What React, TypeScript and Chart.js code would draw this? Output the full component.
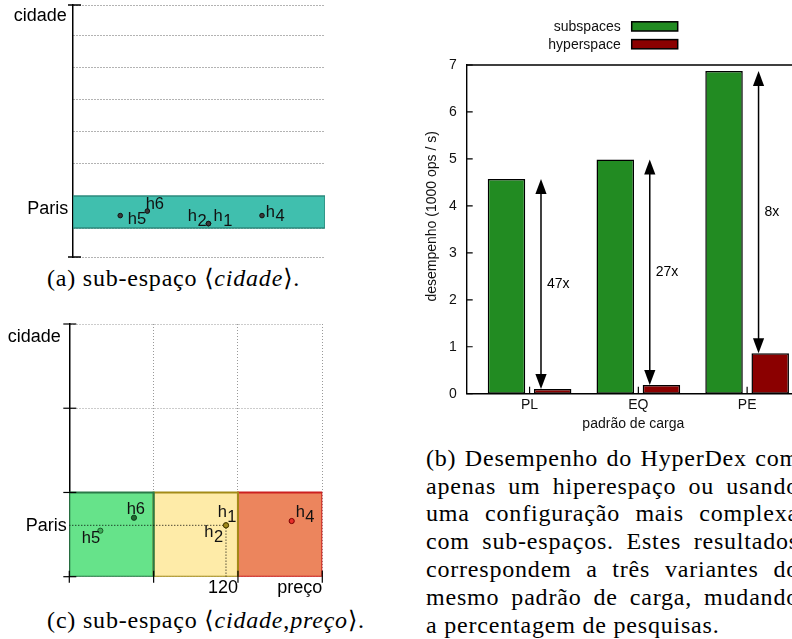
import React, { useEffect, useRef } from "react";
import { Chart, registerables } from "chart.js";

Chart.register(...registerables);

const SANS = '"Liberation Sans", Arial, sans-serif';
const SERIF = '"Liberation Serif", "DejaVu Serif", serif';

// ---------------- (a) sub-espaço <cidade> ----------------
const aAxisName = "cidade";
const aCity = "Paris";
const aCityBand = [1, 2];
const aXRange = [0, 4];
const aYRange = [0.1, 7.95];
const aGridY = [0.1, 1, 2, 3, 4, 5, 6, 7, 7.95];
const aPointNames = ["h5", "h6", "h1", "h2", "h4"];
const aPointX = [0.75, 1.18, 2.15, 2.15, 3.0];
const aPointY = [1.39, 1.53, 1.14, 1.14, 1.39];

// ---------------- (b) desempenho ----------------
const bCategories = ["PL", "EQ", "PE"];
const bSeriesNames = ["subspaces", "hyperspace"];
const bSubspaces = [4.57, 4.99, 6.87];
const bHyperspace = [0.098, 0.185, 0.86];
const bRatios = ["47x", "27x", "8x"];
const bYTicks = [0, 1, 2, 3, 4, 5, 6, 7];
const bXTitle = "padrão de carga";
const bYTitle = "desempenho (1000 ops / s)";

// ---------------- (c) sub-espaço <cidade,preço> ----------------
const cAxisNames = ["cidade", "preço"];
const cCity = "Paris";
const cCityBand = [0, 1];
const cPriceBands = [
  [0, 1],
  [1, 2],
  [2, 3],
];
const cGrid = [0, 1, 2, 3];
const cPointNames = ["h5", "h6", "h1", "h2", "h4"];
const cPointX = [0.368, 0.767, 1.858, 1.858, 2.637];
const cPointY = [0.546, 0.7, 0.61, 0.61, 0.661];
const cPriceTick = "120";

// ---------------- styles ----------------
const SUBSCRIPTED = ["h1", "h2", "h4"];
const aLabelOffsets: Record<string, number[]> = {
  h5: [7.5, 8],
  h6: [-1.7, -2.3],
  h1: [5, -2.6],
  h2: [-20.6, -2.6],
  h4: [3.7, 1.4],
};
const cLabelOffsets: Record<string, number[]> = {
  h5: [-18.6, 12.6],
  h6: [-7.3, -3.4],
  h1: [-8.3, -8],
  h2: [-21.7, 12],
  h4: [4, -3.7],
};
const cBandFill = ["#66e38a", "#feeba8", "#ec855d"];
const cBandStroke = ["#2a7a48", "#a38b18", "#cc2020"];
const cPointFill: Record<string, string> = {
  h5: "#3fae5a",
  h6: "#1f6b30",
  h1: "#a08a1c",
  h2: "#a08a1c",
  h4: "#e8302a",
};
const cPointStroke: Record<string, string> = {
  h5: "#1d5a2a",
  h6: "#0f3d1a",
  h1: "#4d4000",
  h2: "#4d4000",
  h4: "#7a0000",
};

function rectDatasets(
  x0: number,
  x1: number,
  y0: number,
  y1: number,
  fillColor: string,
  stroke: string,
  width: number
) {
  return [
    {
      data: [
        { x: x0, y: y1 },
        { x: x1, y: y1 },
      ],
      showLine: true,
      fill: { value: y0 },
      backgroundColor: fillColor,
      borderColor: "rgba(0,0,0,0)",
      borderWidth: 0,
      pointRadius: 0,
      order: 6,
    },
    {
      data: [
        { x: x0, y: y0 },
        { x: x1, y: y0 },
        { x: x1, y: y1 },
        { x: x0, y: y1 },
        { x: x0, y: y0 },
      ],
      showLine: true,
      fill: false,
      borderColor: stroke,
      borderWidth: width,
      pointRadius: 0,
      order: 5,
    },
  ];
}

function drawHLabel(ctx: CanvasRenderingContext2D, name: string, x: number, y: number) {
  const sub = SUBSCRIPTED.includes(name);
  ctx.font = `16.5px ${SANS}`;
  ctx.textAlign = "left";
  ctx.textBaseline = "alphabetic";
  const head = name.charAt(0);
  const tail = name.slice(1);
  ctx.fillText(head, x, y);
  const w = ctx.measureText(head).width;
  ctx.fillText(tail, x + w + (sub ? 0.5 : 0), y + (sub ? 4.5 : 0));
}

const baseOptions = {
  animation: false as const,
  responsive: false,
  maintainAspectRatio: false,
  devicePixelRatio: 1,
  events: [] as any[],
};

function makeA(canvas: HTMLCanvasElement) {
  const pts = aPointX.map((x, i) => ({ x, y: aPointY[i] }));
  const plugin = {
    id: "decorA",
    afterDatasetsDraw(chart: any) {
      const { ctx, chartArea: ca } = chart;
      const ys = chart.scales.y;
      const xs = chart.scales.x;
      ctx.save();
      ctx.strokeStyle = "#000";
      ctx.lineWidth = 1.5;
      [aYRange[0], aYRange[1]].forEach((v) => {
        const py = ys.getPixelForValue(v);
        ctx.beginPath();
        ctx.moveTo(ca.left - 5, py);
        ctx.lineTo(ca.left + 8, py);
        ctx.stroke();
      });
      ctx.fillStyle = "#000";
      ctx.font = `18px ${SANS}`;
      ctx.textAlign = "right";
      ctx.textBaseline = "alphabetic";
      ctx.fillText(aAxisName, ca.left - 6.3, ca.top + 16);
      ctx.fillText(aCity, ca.left - 4.7, ys.getPixelForValue((aCityBand[0] + aCityBand[1]) / 2) + 2);
      ctx.fillStyle = "#111";
      aPointNames.forEach((n, i) => {
        const [dx, dy] = aLabelOffsets[n];
        drawHLabel(ctx, n, xs.getPixelForValue(aPointX[i]) + dx, ys.getPixelForValue(aPointY[i]) + dy);
      });
      ctx.restore();
    },
  };
  return new Chart(canvas, {
    type: "scatter",
    data: {
      datasets: [
        {
          data: pts,
          pointRadius: 2.3,
          pointBackgroundColor: "#3a3a3a",
          pointBorderColor: "#111",
          pointBorderWidth: 1,
          order: 1,
        },
        ...rectDatasets(aXRange[0], aXRange[1], aCityBand[0], aCityBand[1], "#40bfae", "#2d8a7d", 1.5),
      ] as any,
    },
    options: {
      ...baseOptions,
      layout: { padding: { left: 73, right: 15, top: 4.7, bottom: 4.7 } },
      plugins: { legend: { display: false }, tooltip: { enabled: false } },
      scales: {
        x: { type: "linear", min: aXRange[0], max: aXRange[1], display: false },
        y: {
          type: "linear",
          min: aYRange[0],
          max: aYRange[1],
          afterBuildTicks: (s: any) => {
            s.ticks = aGridY.map((v) => ({ value: v }));
          },
          afterFit: (s: any) => {
            s.width = 0;
          },
          ticks: { display: false },
          grid: { color: "#666", lineWidth: 1, drawTicks: false },
          border: { display: true, color: "#000", width: 1.5, dash: [1, 2] },
        },
      },
    } as any,
    plugins: [plugin],
  });
}

function makeB(canvas: HTMLCanvasElement) {
  const font = { family: SANS, size: 14 };
  const colors = ["#228b22", "#8b0000"];
  const plugin = {
    id: "decorB",
    afterDatasetsDraw(chart: any) {
      const { ctx, chartArea: ca } = chart;
      const xs = chart.scales.x;
      const ys = chart.scales.y;
      ctx.save();
      ctx.strokeStyle = "#000";
      ctx.fillStyle = "#000";
      ctx.lineWidth = 1.4;
      // frame top / right
      ctx.beginPath();
      ctx.moveTo(ca.left, ca.top);
      ctx.lineTo(ca.right, ca.top);
      ctx.lineTo(ca.right, ca.bottom);
      ctx.stroke();
      // inside ticks
      ctx.lineWidth = 1.2;
      bYTicks.forEach((v) => {
        const py = ys.getPixelForValue(v);
        ctx.beginPath();
        ctx.moveTo(ca.left, py);
        ctx.lineTo(ca.left + 6, py);
        ctx.moveTo(ca.right, py);
        ctx.lineTo(ca.right - 6, py);
        ctx.stroke();
      });
      bCategories.forEach((_, i) => {
        const px = xs.getPixelForValue(i);
        ctx.beginPath();
        ctx.moveTo(px, ca.bottom);
        ctx.lineTo(px, ca.bottom - 7);
        ctx.stroke();
      });
      // arrows
      ctx.lineWidth = 1.5;
      const hl = 15;
      const hw = 5.6;
      bCategories.forEach((_, i) => {
        const ax = xs.getPixelForValue(i + 0.105);
        const yt = ys.getPixelForValue(bSubspaces[i]);
        const yb = ys.getPixelForValue(bHyperspace[i]);
        ctx.beginPath();
        ctx.moveTo(ax, yt + hl - 1);
        ctx.lineTo(ax, yb - hl + 1);
        ctx.stroke();
        ctx.beginPath();
        ctx.moveTo(ax, yt);
        ctx.lineTo(ax - hw, yt + hl);
        ctx.lineTo(ax + hw, yt + hl);
        ctx.closePath();
        ctx.fill();
        ctx.beginPath();
        ctx.moveTo(ax, yb);
        ctx.lineTo(ax - hw, yb - hl);
        ctx.lineTo(ax + hw, yb - hl);
        ctx.closePath();
        ctx.fill();
        ctx.font = `14px ${SANS}`;
        ctx.textAlign = "left";
        ctx.textBaseline = "middle";
        ctx.fillText(bRatios[i], ax + 6, ys.getPixelForValue((bSubspaces[i] + bHyperspace[i]) / 2));
      });
      // legend
      const rows = [26.4, 44.2];
      bSeriesNames.forEach((name, i) => {
        ctx.font = `14px ${SANS}`;
        ctx.textAlign = "right";
        ctx.textBaseline = "alphabetic";
        ctx.fillStyle = "#111";
        ctx.fillText(name, ca.left + 154, rows[i] + 5);
        ctx.fillStyle = colors[i];
        ctx.fillRect(ca.left + 165, rows[i] - 4.6, 46, 9.2);
        ctx.strokeStyle = "#000";
        ctx.lineWidth = 1.5;
        ctx.strokeRect(ca.left + 165, rows[i] - 4.6, 46, 9.2);
      });
      // titles
      ctx.fillStyle = "#111";
      ctx.font = `14px ${SANS}`;
      ctx.textAlign = "center";
      ctx.textBaseline = "alphabetic";
      ctx.fillText(bXTitle, xs.getPixelForValue(1) - 5, ca.bottom + 34.6);
      ctx.save();
      ctx.translate(ca.left - 35, (ca.top + ca.bottom) / 2 - 13);
      ctx.rotate(-Math.PI / 2);
      ctx.textBaseline = "middle";
      ctx.fillText(bYTitle, 0, 0);
      ctx.restore();
      ctx.restore();
    },
  };
  const mk = (vals: number[], i: number) => ({
    label: bSeriesNames[i],
    data: vals.map((v, k) => ({ x: k, y: v })),
    backgroundColor: colors[i],
    borderColor: "#000",
    borderWidth: 1.5,
    borderSkipped: false,
    categoryPercentage: 0.849,
    barPercentage: 0.812,
  });
  return new Chart(canvas, {
    type: "bar",
    data: { datasets: [mk(bSubspaces, 0), mk(bHyperspace, 1)] as any },
    options: {
      ...baseOptions,
      layout: { padding: { left: 10, right: 10, top: 65, bottom: 0 } },
      plugins: { legend: { display: false }, tooltip: { enabled: false } },
      scales: {
        x: {
          type: "linear",
          min: -0.578,
          max: 2.578,
          offset: false,
          afterBuildTicks: (s: any) => {
            s.ticks = bCategories.map((_, i) => ({ value: i }));
          },
          afterFit: (s: any) => {
            s.height = 46.3;
          },
          ticks: {
            font,
            color: "#111",
            padding: 3,
            maxRotation: 0,
            autoSkip: false,
            callback: (v: any) => bCategories[v] ?? "",
          },
          grid: { display: false, drawTicks: false, offset: false },
          border: { display: true, color: "#000", width: 1.4 },
        },
        y: {
          type: "linear",
          min: 0,
          max: 7,
          afterBuildTicks: (s: any) => {
            s.ticks = bYTicks.map((v) => ({ value: v }));
          },
          afterFit: (s: any) => {
            s.width = 56.7;
          },
          ticks: { font, color: "#111", padding: 10 },
          grid: { display: false, drawTicks: false },
          border: { display: true, color: "#000", width: 1.4 },
        },
      },
    } as any,
    plugins: [plugin],
  });
}

function makeC(canvas: HTMLCanvasElement) {
  const h1 = cPointNames.indexOf("h1");
  const plugin = {
    id: "decorC",
    afterDatasetsDraw(chart: any) {
      const { ctx, chartArea: ca } = chart;
      const xs = chart.scales.x;
      const ys = chart.scales.y;
      ctx.save();
      ctx.strokeStyle = "#000";
      ctx.lineWidth = 1.2;
      cGrid.forEach((v) => {
        const py = ys.getPixelForValue(v);
        ctx.beginPath();
        ctx.moveTo(ca.left - 6, py);
        ctx.lineTo(ca.left + 7, py);
        ctx.stroke();
        const px = xs.getPixelForValue(v);
        ctx.beginPath();
        ctx.moveTo(px, ca.bottom - 6);
        ctx.lineTo(px, ca.bottom + 6);
        ctx.stroke();
      });
      ctx.fillStyle = "#000";
      ctx.font = `18px ${SANS}`;
      ctx.textBaseline = "alphabetic";
      ctx.textAlign = "right";
      ctx.fillText(cAxisNames[0], ca.left - 8.6, ca.top + 17.7);
      ctx.fillText(cCity, ca.left - 2.6, ys.getPixelForValue(cPointY[h1]) + 5.4);
      ctx.fillText(cAxisNames[1], ca.right, ca.bottom + 16);
      ctx.textAlign = "center";
      ctx.fillText(cPriceTick, xs.getPixelForValue(cPointX[h1]) - 3, ca.bottom + 16.6);
      ctx.fillStyle = "#111";
      cPointNames.forEach((n, i) => {
        const [dx, dy] = cLabelOffsets[n];
        drawHLabel(ctx, n, xs.getPixelForValue(cPointX[i]) + dx, ys.getPixelForValue(cPointY[i]) + dy);
      });
      ctx.restore();
    },
  };
  const bands = cPriceBands.flatMap((b, i) =>
    rectDatasets(b[0], b[1], cCityBand[0], cCityBand[1], cBandFill[i], cBandStroke[i], 2)
  );
  return new Chart(canvas, {
    type: "scatter",
    data: {
      datasets: [
        {
          data: cPointX.map((x, i) => ({ x, y: cPointY[i] })),
          pointRadius: 2.6,
          pointBackgroundColor: cPointNames.map((n) => cPointFill[n]),
          pointBorderColor: cPointNames.map((n) => cPointStroke[n]),
          pointBorderWidth: 1,
          order: 1,
        },
        {
          data: [
            { x: 0, y: cPointY[h1] },
            { x: cPointX[h1], y: cPointY[h1] },
            { x: cPointX[h1], y: cCityBand[0] },
          ],
          showLine: true,
          fill: false,
          borderColor: "#000",
          borderWidth: 1,
          borderDash: [1, 2],
          pointRadius: 0,
          order: 2,
        },
        ...bands,
      ] as any,
    },
    options: {
      ...baseOptions,
      layout: { padding: { left: 69.3, right: 17.7, top: 24, bottom: 23.3 } },
      plugins: { legend: { display: false }, tooltip: { enabled: false } },
      scales: {
        x: {
          type: "linear",
          min: cGrid[0],
          max: cGrid[cGrid.length - 1],
          afterBuildTicks: (s: any) => {
            s.ticks = cGrid.map((v) => ({ value: v }));
          },
          afterFit: (s: any) => {
            s.height = 0;
          },
          ticks: { display: false },
          grid: { color: "#999", lineWidth: 1, drawTicks: false },
          border: { display: false, dash: [1, 2] },
        },
        y: {
          type: "linear",
          min: cGrid[0],
          max: cGrid[cGrid.length - 1],
          afterBuildTicks: (s: any) => {
            s.ticks = cGrid.map((v) => ({ value: v }));
          },
          afterFit: (s: any) => {
            s.width = 0;
          },
          ticks: { display: false },
          grid: { color: "#999", lineWidth: 1, drawTicks: false },
          border: { display: true, color: "#000", width: 1.5, dash: [1, 2] },
        },
      },
    } as any,
    plugins: [plugin],
  });
}

const capStyle: React.CSSProperties = {
  position: "absolute",
  fontFamily: SERIF,
  fontSize: 24,
  letterSpacing: 0.8,
  lineHeight: "28px",
  color: "#000",
  whiteSpace: "nowrap",
};

const bCaptionLines = [
  "(b) Desempenho do HyperDex com",
  "apenas um hiperespaço ou usando",
  "uma configuração mais complexa",
  "com sub-espaços. Estes resultados",
  "correspondem a três variantes do",
  "mesmo padrão de carga, mudando",
  "a percentagem de pesquisas.",
];

export default function App() {
  const aRef = useRef<HTMLCanvasElement>(null);
  const bRef = useRef<HTMLCanvasElement>(null);
  const cRef = useRef<HTMLCanvasElement>(null);

  useEffect(() => {
    const charts = [makeA(aRef.current!), makeB(bRef.current!), makeC(cRef.current!)];
    return () => charts.forEach((c) => c.destroy());
  }, []);

  return (
    <div
      style={{
        position: "fixed",
        left: 0,
        top: 0,
        width: 792,
        height: 639,
        overflow: "hidden",
        background: "#fff",
      }}
    >
      <canvas
        ref={aRef}
        width={340}
        height={262}
        style={{ position: "absolute", left: 0, top: 0, width: 340, height: 262 }}
      />
      <canvas
        ref={bRef}
        width={420}
        height={440}
        style={{ position: "absolute", left: 400, top: 0, width: 420, height: 440 }}
      />
      <canvas
        ref={cRef}
        width={340}
        height={300}
        style={{ position: "absolute", left: 0, top: 300, width: 340, height: 300 }}
      />
      <div style={{ ...capStyle, left: 0, width: 347, top: 264, textAlign: "center" }}>
        (a) sub-espaço ⟨<i>cidade</i>⟩.
      </div>
      <div style={{ ...capStyle, left: 0, width: 412, top: 606, textAlign: "center" }}>
        (c) sub-espaço ⟨<i>cidade</i>,<i>preço</i>⟩.
      </div>
      <div style={{ position: "absolute", left: 426, top: 444.7, width: 373 }}>
        {bCaptionLines.map((t, i) => (
          <div
            key={i}
            style={{
              ...capStyle,
              position: "relative",
              whiteSpace: "normal",
              lineHeight: "27.9px",
              height: 27.9,
              width: 373,
              textAlign: "justify",
              textAlignLast: i === bCaptionLines.length - 1 ? "left" : "justify",
            }}
          >
            {t}
          </div>
        ))}
      </div>
    </div>
  );
}
